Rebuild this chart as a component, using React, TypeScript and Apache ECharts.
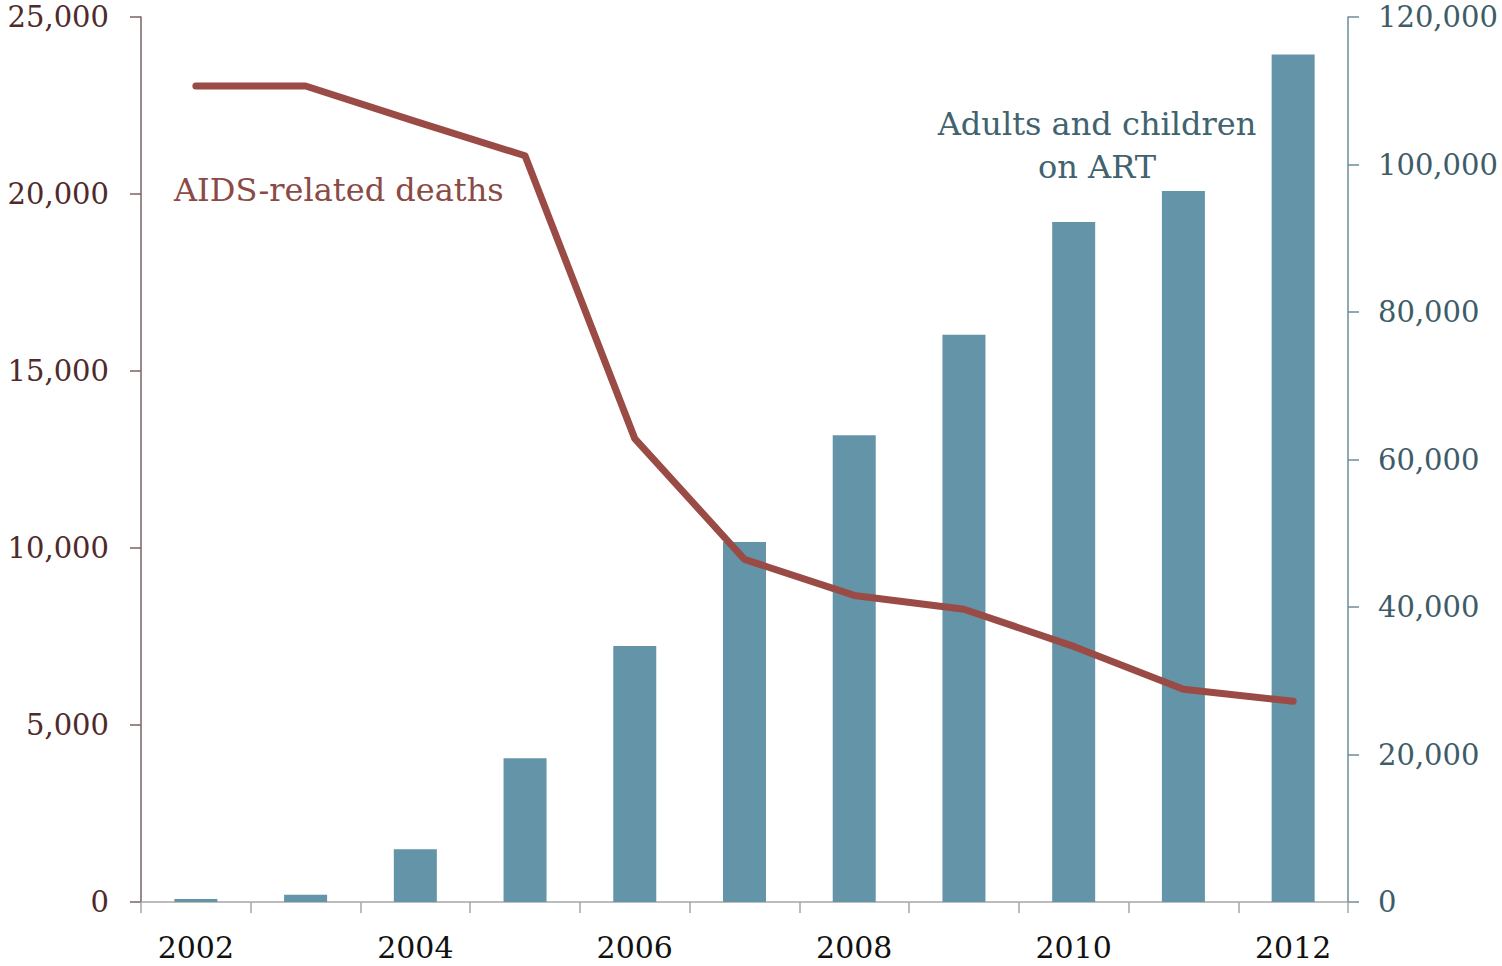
import React, { useEffect, useRef } from "react";
import * as echarts from "echarts";

const years = ["2002", "2003", "2004", "2005", "2006", "2007", "2008", "2009", "2010", "2011", "2012"];
const onArt = [400, 1000, 7150, 19500, 34700, 48800, 63300, 76900, 92200, 96400, 114900];
const deaths = [23050, 23050, 22050, 21080, 13090, 9680, 8660, 8270, 7220, 6010, 5670];
const leftTicks = [0, 5000, 10000, 15000, 20000, 25000];
const rightTicks = [0, 20000, 40000, 60000, 80000, 100000, 120000];

const FONT = "DejaVu Serif";
const fmt = (v: number) => v.toLocaleString("en-US");

export default function App() {
  const ref = useRef<HTMLDivElement>(null);
  useEffect(() => {
    if (!ref.current) return;
    const chart = echarts.init(ref.current, undefined, { renderer: "svg" });
    chart.setOption({
      animation: false,
      backgroundColor: "#ffffff",
      textStyle: { fontFamily: FONT },
      grid: { left: 141, right: 154, top: 17, bottom: 64, containLabel: false },
      xAxis: {
        type: "category",
        data: years,
        boundaryGap: true,
        axisLine: { show: true, lineStyle: { color: "#a6a6a6", width: 1.5 } },
        axisTick: { show: true, interval: 0, length: 11, lineStyle: { color: "#a6a6a6", width: 1.5 } },
        axisLabel: {
          interval: 1,
          margin: 30,
          color: "#111111",
          fontFamily: FONT,
          fontSize: 30,
        },
        splitLine: { show: false },
      },
      yAxis: [
        {
          type: "value",
          min: leftTicks[0],
          max: leftTicks[leftTicks.length - 1],
          interval: 5000,
          position: "left",
          axisLine: { show: true, lineStyle: { color: "#7d6262", width: 1.5 } },
          axisTick: { show: true, length: 11, lineStyle: { color: "#7d6262", width: 1.5 } },
          axisLabel: {
            margin: 32,
            color: "#4f2a2a",
            fontFamily: FONT,
            fontSize: 29,
            formatter: (v: number) => fmt(v),
          },
          splitLine: { show: false },
        },
        {
          type: "value",
          min: rightTicks[0],
          max: rightTicks[rightTicks.length - 1],
          interval: 20000,
          position: "right",
          axisLine: { show: true, lineStyle: { color: "#6d8c96", width: 1.5 } },
          axisTick: { show: true, length: 11, lineStyle: { color: "#6d8c96", width: 1.5 } },
          axisLabel: {
            margin: 30,
            color: "#3e5c68",
            fontFamily: FONT,
            fontSize: 29,
            formatter: (v: number) => fmt(v),
          },
          splitLine: { show: false },
        },
      ],
      series: [
        {
          name: "Adults and children on ART",
          type: "bar",
          yAxisIndex: 1,
          data: onArt,
          barWidth: 43,
          itemStyle: { color: "#6394a8" },
        },
        {
          name: "AIDS-related deaths",
          type: "line",
          yAxisIndex: 0,
          data: deaths,
          symbol: "none",
          lineStyle: { color: "#9a4b45", width: 7, cap: "round", join: "round" },
          z: 5,
        },
      ],
      graphic: [
        {
          type: "text",
          x: 174,
          y: 190,
          style: {
            text: "AIDS-related deaths",
            fill: "#8b4a46",
            font: `32px "${FONT}"`,
            align: "left",
            verticalAlign: "middle",
          },
        },
        {
          type: "text",
          x: 1097,
          y: 102,
          style: {
            text: "Adults and children\non ART",
            fill: "#41636f",
            font: `32px "${FONT}"`,
            align: "center",
            verticalAlign: "top",
            lineHeight: 43,
          },
        },
      ],
    });
    return () => chart.dispose();
  }, []);
  return (
    <div
      ref={ref}
      style={{ position: "fixed", left: 0, top: 0, width: 1502, height: 966, background: "#fff" }}
    />
  );
}
